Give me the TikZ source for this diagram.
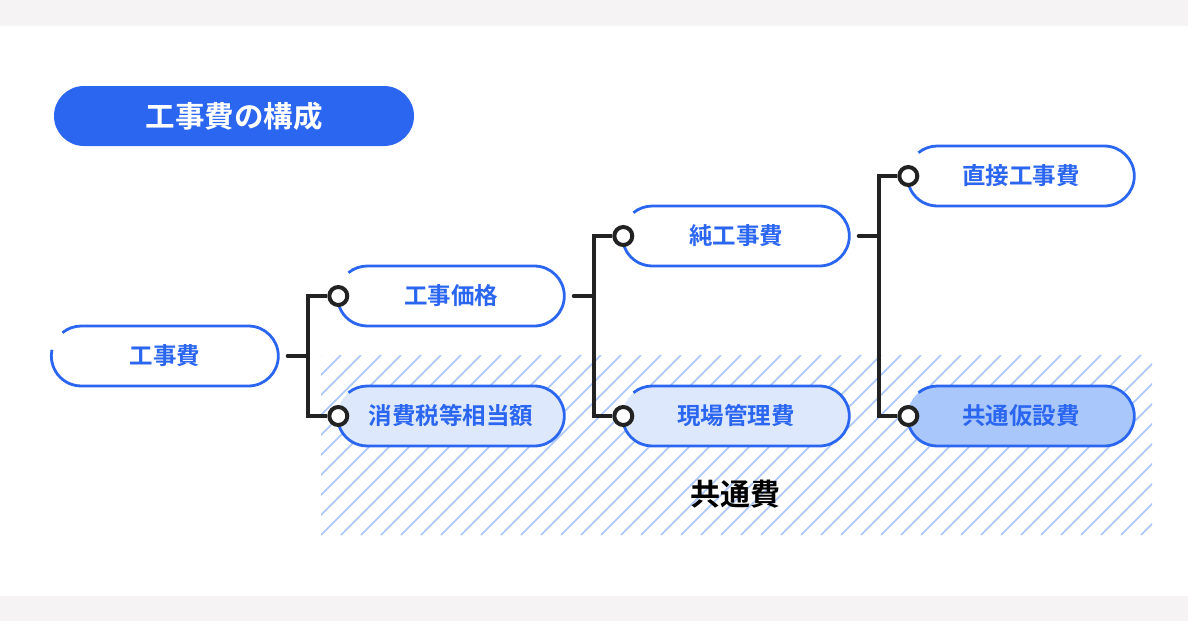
\documentclass[tikz,border=0pt]{standalone}
\usepackage{fontspec}
\setmainfont{Noto Sans CJK JP Bold}
\definecolor{brand}{HTML}{2B66F0}
\definecolor{paleblue}{HTML}{DDE8FD}
\definecolor{midblue}{HTML}{AAC7FB}
\definecolor{hatchblue}{HTML}{A9C6F8}
\definecolor{band}{HTML}{F5F3F4}
\definecolor{ink}{HTML}{222222}
\begin{document}
\begin{tikzpicture}[x=1pt,y=1pt,
	pill/.style={rectangle,rounded corners=30pt,minimum width=227pt,minimum height=60pt,inner sep=0pt,fill=white,text=brand,font=\fontsize{23.5}{26}\selectfont},
	rim/.style={draw=brand,line width=2.8pt},
	dot/.style={circle,draw=ink,line width=4pt,fill=white,minimum size=18pt,inner sep=0pt},
	conn/.style={draw=ink,line width=4pt,line cap=round},
	hatch/.style={draw=hatchblue,line width=1.7pt}]
	\useasboundingbox (0,0) rectangle (1188,-621);
	\fill[band] (0,0) rectangle (1188,-26);
	\fill[band] (0,-596) rectangle (1188,-621);

	\begin{scope}
		\clip (321,-355) rectangle (1152,-535);
		\foreach \i in {0,...,51}
			\draw[hatch] (141+20*\i,-535) -- ++(180,180);
	\end{scope}

	\node[rectangle,rounded corners=30pt,minimum width=360pt,minimum height=60pt,fill=brand,text=white,font=\fontsize{29.5}{32}\selectfont] (title) at (234,-116) {工事費の構成};

	\node[pill] (kouji) at (165,-356) {工事費};
	\node[pill] (kakaku) at (451,-296) {工事価格};
	\node[pill,fill=paleblue] (zei) at (451,-416) {消費税等相当額};
	\node[pill] (jun) at (736,-236) {純工事費};
	\node[pill,fill=paleblue] (genba) at (736,-416) {現場管理費};
	\node[pill] (choku) at (1021,-176) {直接工事費};
	\node[pill,fill=midblue] (kasetsu) at (1021,-416) {共通仮設費};

	\foreach \n in {kouji,kakaku,zei,jun,genba,choku,kasetsu}
		\draw[rim] ([xshift=30pt]\n.west) ++(129:30pt) arc[start angle=129,end angle=90,radius=30pt]
			-- ++(167,0) arc[start angle=90,end angle=-90,radius=30pt]
			-- ++(-167,0) arc[start angle=270,end angle=168,radius=30pt];

	\node[dot] (d1) at ([xshift=1pt]kakaku.west) {};
	\node[dot] (d2) at ([xshift=1pt]zei.west) {};
	\node[dot] (d3) at ([xshift=1pt]jun.west) {};
	\node[dot] (d4) at ([xshift=1pt]genba.west) {};
	\node[dot] (d5) at ([xshift=1pt]choku.west) {};
	\node[dot] (d6) at ([xshift=1pt]kasetsu.west) {};

	\draw[conn] ([xshift=9pt]kouji.east) -- ++(20,0) coordinate (b1);
	\draw[conn,line cap=butt] (d1.west) -| (b1) |- (d2.west);
	\draw[conn] ([xshift=9pt]kakaku.east) -- ++(20,0) coordinate (b2);
	\draw[conn,line cap=butt] (d3.west) -| (b2) |- (d4.west);
	\draw[conn] ([xshift=9pt]jun.east) -- ++(20,0) coordinate (b3);
	\draw[conn,line cap=butt] (d5.west) -| (b3) |- (d6.west);

	\node[font=\fontsize{30}{32}\selectfont,text=black] (common) at (735,-494) {共通費};
\end{tikzpicture}
\end{document}
